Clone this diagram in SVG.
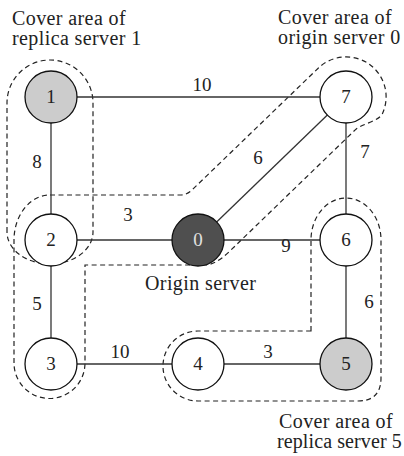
<svg xmlns="http://www.w3.org/2000/svg" width="404" height="456" viewBox="0 0 404 456">
  <style>
    text { font-family: "Liberation Serif", "Times New Roman", serif; fill: #222; }
    .cap { font-size: 20px; letter-spacing: 0.4px; }
    .tight { letter-spacing: 0.1px; }
    .lbl { font-size: 19px; text-anchor: middle; }
    .num { font-size: 19px; text-anchor: middle; }
    .edge { stroke: #333; stroke-width: 1.3; fill: none; }
    .area { stroke: #222; stroke-width: 1.2; fill: none; stroke-dasharray: 5 3.5; }
    .node { stroke: #111; stroke-width: 1.3; }
    .plain { fill: #fff; }
    .replica { fill: #cccccc; }
    .origin { fill: #4f4f4f; }
  </style>

  <!-- cover areas (dashed outlines) -->
  <g id="cover-areas">
    <!-- replica server 1: nodes 1 and 2 -->
    <path id="area-replica-1" class="area" d="M 7,232 L 7,103 A 43 43 0 0 1 93,103 L 93,232 A 43 32 0 0 1 7,232 Z"/>
    <!-- origin server 0: nodes 7, 0, 2, 3 -->
    <path id="area-origin-0" class="area" d="M 50,195 L 180,195 Q 187,195 192,190 L 318.2,68.2 A 40 40 0 0 1 382.3,113.9 C 379,121.1 361.3,124 355.5,129.6 L 229,251.9 Q 215.4,265 205,265 L 85,265 L 85,363 A 35.5 35.5 0 0 1 14,363 L 14,240 A 36 45 0 0 1 50,195 Z"/>
    <!-- replica server 5: nodes 6, 5, 4 -->
    <path id="area-replica-5" class="area" d="M 311,331 L 311,240 A 35 42 0 0 1 381,240 L 381,378 Q 381,401 358,401 L 198,401 A 35 35 0 0 1 198,331 Z"/>
  </g>

  <!-- connectors -->
  <g id="connectors">
    <line class="edge" x1="51" y1="97" x2="346" y2="97"/>
    <line class="edge" x1="51" y1="97" x2="51" y2="240"/>
    <line class="edge" x1="51" y1="240" x2="198" y2="240"/>
    <line class="edge" x1="198" y1="240" x2="346" y2="97"/>
    <line class="edge" x1="346" y1="97" x2="346" y2="240"/>
    <line class="edge" x1="198" y1="240" x2="346" y2="240"/>
    <line class="edge" x1="346" y1="240" x2="346" y2="364"/>
    <line class="edge" x1="51" y1="240" x2="51" y2="364"/>
    <line class="edge" x1="51" y1="364" x2="198" y2="364"/>
    <line class="edge" x1="198" y1="364" x2="346" y2="364"/>

    <text class="lbl" x="202" y="91">10</text>
    <text class="lbl" x="37" y="168">8</text>
    <text class="lbl" x="128" y="221">3</text>
    <text class="lbl" x="258" y="164">6</text>
    <text class="lbl" x="365" y="158">7</text>
    <text class="lbl" x="286" y="252">9</text>
    <text class="lbl" x="369" y="308">6</text>
    <text class="lbl" x="37" y="310">5</text>
    <text class="lbl" x="120" y="358">10</text>
    <text class="lbl" x="268" y="358">3</text>
  </g>

  <!-- nodes -->
  <g id="node-1"><circle class="node replica" cx="51" cy="97" r="26"/><text class="num" x="51" y="103">1</text></g>
  <g id="node-7"><circle class="node plain" cx="346" cy="97" r="26"/><text class="num" x="346" y="103">7</text></g>
  <g id="node-2"><circle class="node plain" cx="51" cy="240" r="26"/><text class="num" x="51" y="246">2</text></g>
  <g id="node-0"><circle class="node origin" cx="198" cy="240" r="26"/><text class="num" x="198" y="246" style="fill:#e0e0e0">0</text></g>
  <g id="node-6"><circle class="node plain" cx="346" cy="240" r="26"/><text class="num" x="346" y="246">6</text></g>
  <g id="node-3"><circle class="node plain" cx="51" cy="364" r="26"/><text class="num" x="51" y="370">3</text></g>
  <g id="node-4"><circle class="node plain" cx="198" cy="364" r="26"/><text class="num" x="198" y="370">4</text></g>
  <g id="node-5"><circle class="node replica" cx="346" cy="364" r="26"/><text class="num" x="346" y="370">5</text></g>

  <!-- captions -->
  <g id="captions">
    <text class="cap" x="12" y="25">Cover area of</text>
    <text class="cap" x="12" y="45">replica server 1</text>
    <text class="cap" x="278" y="24">Cover area of</text>
    <text class="cap" x="278" y="44">origin server 0</text>
    <text class="cap" x="145" y="290">Origin server</text>
    <text class="cap" x="279" y="428">Cover area of</text>
    <text class="cap tight" x="277" y="448">replica server 5</text>
  </g>
</svg>
